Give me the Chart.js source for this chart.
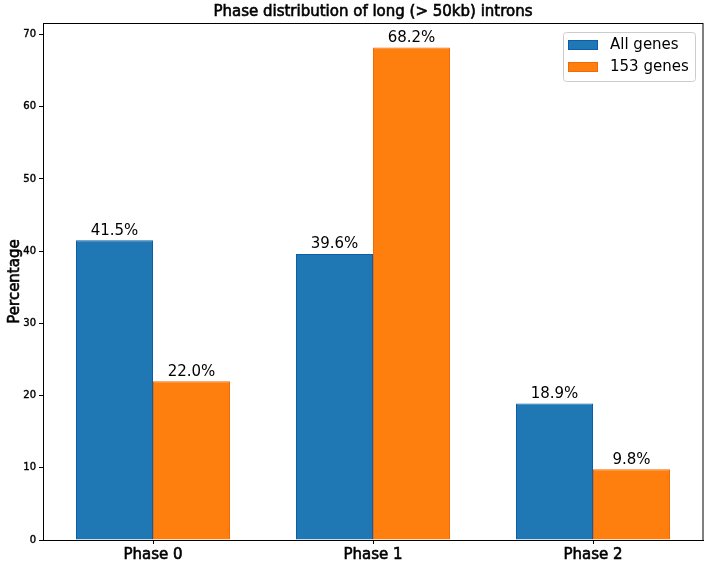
<!DOCTYPE html>
<html>
<head>
<meta charset="utf-8">
<script src="https://cdn.jsdelivr.net/npm/chart.js@4.4.1/dist/chart.umd.min.js"></script>
<style>
  html, body { margin: 0; padding: 0; background: #fff; }
  #wrap { width: 712px; height: 568px; }
</style>
</head>
<body>
<div id="wrap"><canvas id="phaseChart"></canvas></div>
<script>
const phases = ['Phase 0', 'Phase 1', 'Phase 2'];
const allGenes = [41.5, 39.6, 18.9];
const genes153 = [22.0, 68.2, 9.8];
const yTicks = [0, 10, 20, 30, 40, 50, 60, 70];

const FONT = '"DejaVu Sans", sans-serif';

// title, frame, value labels and legend
const extras = {
  id: 'extras',
  afterDraw(chart) {
    const ctx = chart.ctx;
    const a = chart.chartArea;
    ctx.save();
    ctx.strokeStyle = '#000';
    ctx.lineWidth = 1;
    ctx.strokeRect(a.left + 0.5, a.top + 0.5, a.right - a.left - 0.5, a.bottom - a.top);

    ctx.fillStyle = '#000';
    ctx.font = '15px ' + FONT;
    ctx.textAlign = 'center';
    ctx.textBaseline = 'middle';
    ctx.lineWidth = 0.6;
    ctx.fillText('Phase distribution of long (> 50kb) introns', (a.left + a.right) / 2, 12);
    ctx.strokeText('Phase distribution of long (> 50kb) introns', (a.left + a.right) / 2, 12);

    // y axis label, slightly heavier like the original
    ctx.save();
    ctx.translate(15, (a.top + a.bottom) / 2);
    ctx.rotate(-Math.PI / 2);
    ctx.fillText('Percentage', 0, 0);
    ctx.strokeText('Percentage', 0, 0);
    ctx.restore();
    ctx.lineWidth = 1;

    ctx.textBaseline = 'bottom';
    chart.data.datasets.forEach((ds, i) => {
      chart.getDatasetMeta(i).data.forEach((bar, j) => {
        ctx.fillText(ds.data[j].toFixed(1) + '%', bar.x, bar.y - 2);
      });
    });

    // legend box
    const lx = 563, ly = 32, lw = 132, lh = 49;
    ctx.strokeStyle = '#cccccc';
    ctx.fillStyle = 'rgba(255,255,255,0.8)';
    ctx.beginPath();
    ctx.roundRect(lx + 0.5, ly + 0.5, lw, lh, 3);
    ctx.fill();
    ctx.stroke();
    ctx.textAlign = 'left';
    ctx.textBaseline = 'middle';
    chart.data.datasets.forEach((ds, i) => {
      const y = ly + 8 + i * 22;
      ctx.fillStyle = ds.backgroundColor;
      ctx.fillRect(lx + 5, y, 30, 10);
      ctx.strokeStyle = ds.borderColor;
      ctx.strokeRect(lx + 5.5, y + 0.5, 29, 9);
      ctx.fillStyle = '#000';
      ctx.fillText(ds.label, lx + 47, y + 5);
    });
    ctx.restore();
  }
};

new Chart(document.getElementById('phaseChart'), {
  type: 'bar',
  data: {
    labels: phases,
    datasets: [
      { label: 'All genes', data: allGenes, backgroundColor: '#1f77b4', borderColor: '#0b5cad', borderWidth: 1 },
      { label: '153 genes', data: genes153, backgroundColor: '#ff7f0e', borderColor: '#f06a0a', borderWidth: 1 }
    ]
  },
  options: {
    responsive: true,
    maintainAspectRatio: false,
    animation: false,
    layout: { padding: { top: 23, right: 9, left: 0, bottom: 0 } },
    datasets: { bar: { categoryPercentage: 0.7, barPercentage: 1.0 } },
    plugins: { legend: { display: false }, tooltip: { enabled: false } },
    scales: {
      x: {
        afterFit(s) { s.height = 28; },
        grid: { offset: false, drawOnChartArea: false, color: '#000', tickLength: 4, tickColor: '#000' },
        border: { color: '#000' },
        ticks: { color: '#000', font: { family: FONT, size: 15 }, padding: 2, textStrokeColor: '#000', textStrokeWidth: 0.6 }
      },
      y: {
        min: 0,
        max: 71.6,
        afterFit(s) { s.width = 43; },
        afterBuildTicks(s) { s.ticks = yTicks.map(v => ({ value: v })); },
        grid: { drawOnChartArea: false, tickLength: 4, tickColor: '#000' },
        border: { color: '#000' },
        ticks: { color: '#000', font: { family: FONT, size: 10 }, padding: 3, textStrokeColor: '#000', textStrokeWidth: 0.4 }
      }
    }
  },
  plugins: [extras]
});
</script>
</body>
</html>
